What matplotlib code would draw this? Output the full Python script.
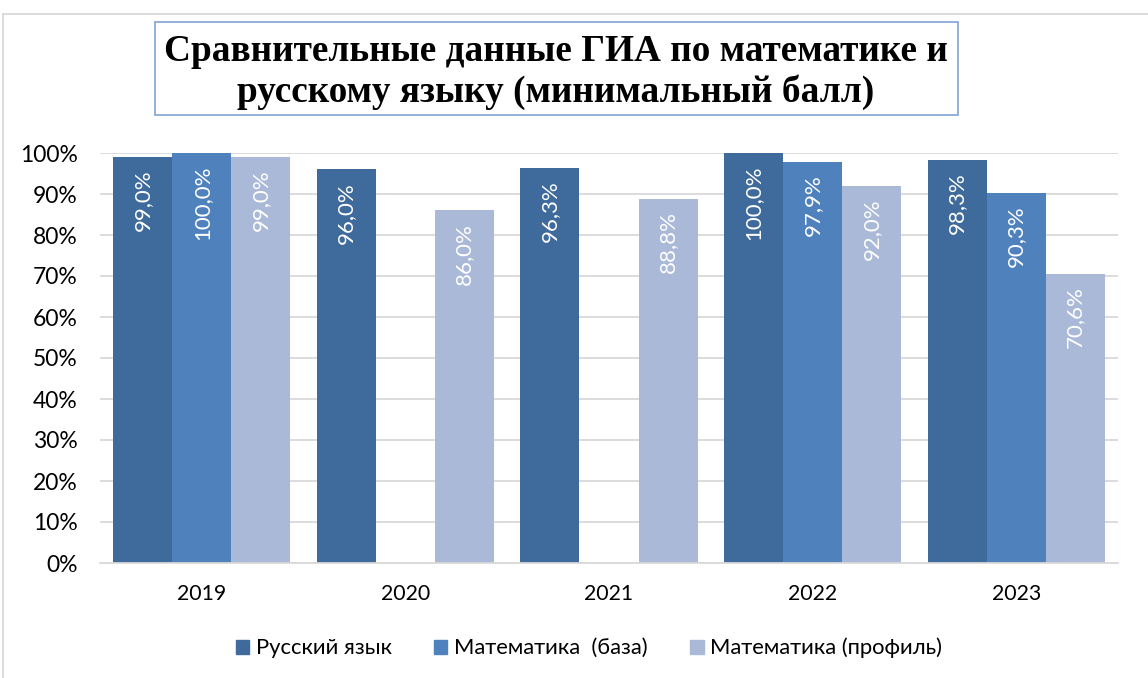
import matplotlib
matplotlib.use("Agg")
import matplotlib.pyplot as plt
from matplotlib.patches import Rectangle
from matplotlib.lines import Line2D
import numpy as np

categories = ["2019", "2020", "2021", "2022", "2023"]
series_names = ["Русский язык", "Математика  (база)", "Математика (профиль)"]
russian = [99.0, 96.0, 96.3, 100.0, 98.3]
math_base = [100.0, 0.0, 0.0, 97.9, 90.3]
math_prof = [99.0, 86.0, 88.8, 92.0, 70.6]
show_base_label = [True, False, False, True, True]
yticks = [0, 10, 20, 30, 40, 50, 60, 70, 80, 90, 100]
title = "Сравнительные данные ГИА по математике и\nрусскому языку (минимальный балл)"

colors = ["#3F6A9C", "#4F81BD", "#AAB9D8"]

plt.rcParams['font.family'] = ['Lato', 'DejaVu Sans']

fig = plt.figure(figsize=(11.48, 6.78), dpi=100)
ax = fig.add_axes([100/1148, 1-563/678, 1018/1148, 410/678])

x = np.arange(len(categories))
w = 0.29
all_series = [russian, math_base, math_prof]
for i, (vals, col) in enumerate(zip(all_series, colors)):
    xs = x + (i - 1) * w
    ax.bar(xs, vals, width=w, color=col, zorder=2, linewidth=0)
    for j, (xx, v) in enumerate(zip(xs, vals)):
        if i == 1 and not show_base_label[j]:
            continue
        ax.annotate(f"{v:.1f}%".replace(".", ","), xy=(xx, v), xytext=(0, -9),
                    textcoords="offset points", rotation=90, ha="center", va="top",
                    color="white", fontsize=16, zorder=3)

ax.set_xlim(-0.5, len(categories) - 0.5)
ax.set_ylim(0, 100)
ax.set_yticks(yticks)
ax.set_yticklabels([f"{t}%" for t in yticks], fontsize=16.5)
ax.set_xticks(x)
ax.set_xticklabels(categories, fontsize=15.3)
ax.tick_params(axis='both', length=0)
ax.tick_params(axis='y', pad=16)
ax.tick_params(axis='x', pad=15)
ax.grid(axis='y', color="#D9D9D9", linewidth=1.3, zorder=0)
for s in ["top", "right", "left"]:
    ax.spines[s].set_visible(False)
ax.spines["bottom"].set_color("#D9D9D9")
ax.spines["bottom"].set_linewidth(1.3)

handles = [Rectangle((0, 0), 1, 1, color=c) for c in colors]
fig.legend(handles, series_names, loc="center", bbox_to_anchor=(589/1148, 1-648/678),
           ncol=3, frameon=False, fontsize=15.8, handlelength=0.6, handleheight=0.6,
           handletextpad=0.3, columnspacing=1.95)

# outer border
fig.add_artist(Line2D([3/1148, 1], [1-14/678, 1-14/678], color="#D9D9D9", lw=1.3,
                      transform=fig.transFigure))
fig.add_artist(Line2D([3/1148, 3/1148], [0, 1-14/678], color="#D9D9D9", lw=1.3,
                      transform=fig.transFigure))

# title box
fig.add_artist(Rectangle((155/1148, 1-115/678), 803/1148, 93/678, fill=False,
                         edgecolor="#7FA3D3", lw=1.2, transform=fig.transFigure))
fig.text(556/1148, 1-72/678, title, ha="center", va="center", fontsize=26.8,
         fontweight="bold", family=["Liberation Serif", "DejaVu Serif"], linespacing=1.18)

fig.savefig("out.png", dpi=100)
